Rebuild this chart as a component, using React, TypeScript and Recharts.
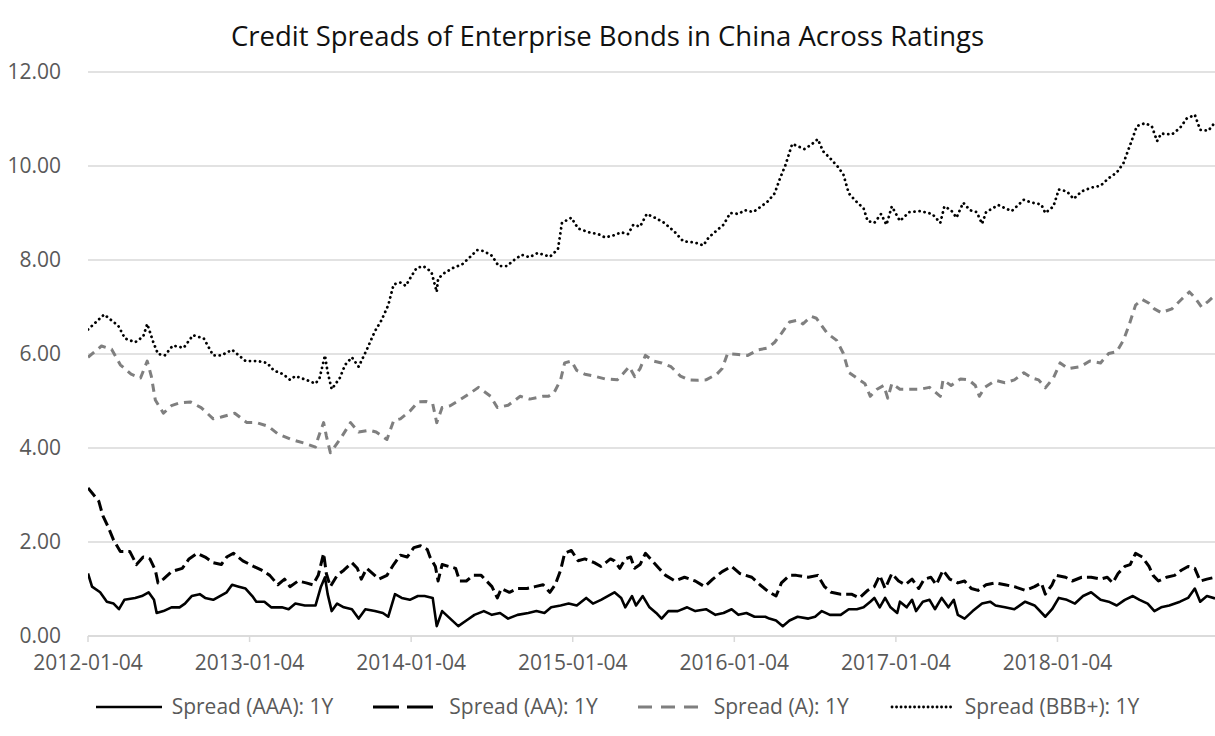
import { CartesianGrid, Line, LineChart, XAxis, YAxis } from "recharts";

// x = months since 2012-01-04, y = spread (%)
const yearLabels = [
  "2012-01-04",
  "2013-01-04",
  "2014-01-04",
  "2015-01-04",
  "2016-01-04",
  "2017-01-04",
  "2018-01-04",
];
const yTicks = [0, 2, 4, 6, 8, 10, 12];

const aaa: [number, number][] = [
  [0, 1.33], [0.3, 1.05], [0.9, 0.93], [1.4, 0.73], [1.9, 0.69], [2.3, 0.57], [2.7, 0.77], [3.5, 0.81],
  [4.0, 0.85], [4.5, 0.93], [4.9, 0.77], [5.1, 0.49], [5.6, 0.53], [6.2, 0.61], [6.8, 0.61], [7.2, 0.69],
  [7.7, 0.85], [8.3, 0.89], [8.7, 0.81], [9.3, 0.77], [9.8, 0.85], [10.3, 0.93], [10.7, 1.09], [11.2, 1.05],
  [11.7, 1.01], [12.2, 0.85], [12.5, 0.73], [13.1, 0.73], [13.6, 0.61], [14.4, 0.61], [14.9, 0.57], [15.4, 0.69],
  [16.1, 0.65], [16.9, 0.65], [17.3, 1.05], [17.6, 1.25], [17.8, 0.89], [18.1, 0.53], [18.5, 0.69], [19.0, 0.61],
  [19.6, 0.57], [20.1, 0.37], [20.6, 0.57], [21.3, 0.53], [21.9, 0.49], [22.3, 0.41], [22.8, 0.89], [23.3, 0.81],
  [23.9, 0.77], [24.5, 0.85], [25.0, 0.85], [25.6, 0.81], [25.9, 0.21], [26.3, 0.53], [26.9, 0.37], [27.5, 0.21],
  [28.1, 0.33], [28.7, 0.45], [29.4, 0.53], [30.0, 0.45], [30.6, 0.49], [31.2, 0.37], [31.9, 0.45], [32.7, 0.49],
  [33.3, 0.53], [33.9, 0.49], [34.4, 0.61], [35.1, 0.65], [35.7, 0.69], [36.3, 0.65], [37.0, 0.81], [37.5, 0.69],
  [38.1, 0.77], [38.6, 0.85], [39.1, 0.93], [39.6, 0.81], [39.9, 0.61], [40.4, 0.85], [40.7, 0.65], [41.2, 0.85],
  [41.7, 0.61], [42.2, 0.49], [42.6, 0.37], [43.1, 0.53], [43.8, 0.53], [44.5, 0.61], [45.1, 0.53], [45.9, 0.57],
  [46.6, 0.45], [47.2, 0.49], [47.8, 0.57], [48.3, 0.45], [48.9, 0.49], [49.5, 0.41], [50.3, 0.41], [50.6, 0.37],
  [51.1, 0.33], [51.6, 0.21], [52.1, 0.33], [52.7, 0.41], [53.5, 0.37], [54.0, 0.41], [54.5, 0.53], [55.1, 0.45],
  [55.9, 0.45], [56.5, 0.57], [57.1, 0.57], [57.6, 0.61], [58.1, 0.73], [58.4, 0.81], [58.8, 0.61], [59.2, 0.81],
  [59.6, 0.61], [60.1, 0.49], [60.3, 0.73], [60.8, 0.61], [61.2, 0.77], [61.5, 0.53], [62.0, 0.73], [62.5, 0.77],
  [62.9, 0.57], [63.4, 0.81], [63.9, 0.61], [64.3, 0.77], [64.6, 0.45], [65.1, 0.37], [65.7, 0.53], [66.4, 0.69],
  [67.0, 0.73], [67.4, 0.65], [68.1, 0.61], [68.8, 0.57], [69.6, 0.73], [70.3, 0.65], [71.1, 0.41], [71.6, 0.57],
  [72.1, 0.81], [72.7, 0.77], [73.3, 0.69], [73.9, 0.85], [74.5, 0.93], [75.2, 0.77], [75.8, 0.73], [76.4, 0.65],
  [77.0, 0.77], [77.6, 0.85], [78.1, 0.77], [78.7, 0.69], [79.2, 0.53], [79.7, 0.61], [80.3, 0.65], [81.1, 0.73],
  [81.7, 0.81], [82.2, 1.01], [82.6, 0.73], [83.1, 0.85], [83.7, 0.8],
];

const aa: [number, number][] = [
  [0, 3.15], [0.8, 2.87], [1.1, 2.56], [1.5, 2.32], [1.9, 2.04], [2.4, 1.8], [3.1, 1.8], [3.6, 1.52],
  [4.1, 1.68], [4.6, 1.64], [5.0, 1.4], [5.2, 1.13], [5.6, 1.21], [6.2, 1.37], [7.0, 1.44], [7.5, 1.64],
  [8.1, 1.76], [8.7, 1.68], [9.3, 1.56], [9.9, 1.52], [10.3, 1.68], [10.8, 1.76], [11.5, 1.6], [12.3, 1.48],
  [12.9, 1.4], [13.5, 1.29], [14.1, 1.09], [14.6, 1.21], [15.0, 1.05], [15.6, 1.17], [16.2, 1.13], [16.7, 1.09],
  [17.1, 1.29], [17.5, 1.76], [17.7, 1.33], [18.0, 1.05], [18.5, 1.29], [19.0, 1.4], [19.6, 1.56], [20.0, 1.44],
  [20.3, 1.21], [20.7, 1.44], [21.6, 1.21], [22.2, 1.29], [22.7, 1.52], [23.2, 1.72], [23.7, 1.68], [24.2, 1.88],
  [24.7, 1.92], [25.2, 1.84], [25.4, 1.68], [25.8, 1.48], [26.0, 1.17], [26.3, 1.52], [26.8, 1.48], [27.3, 1.44],
  [27.6, 1.17], [28.1, 1.17], [28.6, 1.29], [29.2, 1.29], [29.6, 1.17], [30.0, 1.05], [30.4, 0.81], [30.7, 1.01],
  [31.3, 0.93], [31.9, 1.01], [32.6, 1.01], [33.2, 1.05], [33.8, 1.09], [34.3, 0.93], [34.7, 1.09], [35.1, 1.4],
  [35.4, 1.76], [35.9, 1.82], [36.4, 1.6], [36.9, 1.64], [37.6, 1.56], [38.1, 1.48], [38.8, 1.64], [39.1, 1.6],
  [39.5, 1.44], [39.9, 1.64], [40.3, 1.68], [40.6, 1.44], [41.0, 1.52], [41.4, 1.76], [41.9, 1.6], [42.4, 1.44],
  [42.9, 1.29], [43.6, 1.17], [44.3, 1.25], [45.1, 1.17], [45.8, 1.05], [46.4, 1.21], [47.1, 1.37], [47.8, 1.48],
  [48.4, 1.33], [49.3, 1.25], [49.9, 1.09], [50.5, 0.95], [51.1, 0.85], [51.5, 1.13], [52.1, 1.29], [52.6, 1.29],
  [53.5, 1.25], [54.2, 1.29], [54.7, 1.05], [55.2, 0.93], [55.9, 0.89], [56.7, 0.89], [57.3, 0.81], [57.9, 0.97],
  [58.4, 1.05], [58.8, 1.29], [59.2, 1.01], [59.7, 1.33], [60.2, 1.17], [60.7, 1.09], [61.2, 1.21], [61.7, 1.01],
  [62.1, 1.21], [62.6, 1.25], [63.0, 1.09], [63.5, 1.4], [64.0, 1.21], [64.6, 1.13], [65.1, 1.17], [65.6, 1.01],
  [66.1, 0.97], [66.7, 1.09], [67.4, 1.13], [68.1, 1.09], [68.8, 1.05], [69.6, 0.97], [70.3, 1.05], [70.8, 1.13],
  [71.1, 0.89], [71.6, 1.09], [71.9, 1.29], [72.6, 1.25], [73.1, 1.17], [73.8, 1.25], [74.5, 1.25], [75.2, 1.21],
  [75.7, 1.25], [76.1, 1.13], [76.5, 1.33], [77.0, 1.48], [77.4, 1.52], [77.8, 1.76], [78.3, 1.68], [78.8, 1.48],
  [79.1, 1.29], [79.5, 1.17], [80.1, 1.25], [80.7, 1.29], [81.2, 1.4], [81.7, 1.48], [82.2, 1.44], [82.6, 1.17],
  [83.1, 1.21], [83.7, 1.25],
];

const ratingA: [number, number][] = [
  [0, 5.93], [1.0, 6.17], [1.75, 6.1], [2.4, 5.77], [3.2, 5.57], [3.9, 5.49], [4.4, 5.85], [4.7, 5.53],
  [5.0, 5.02], [5.6, 4.74], [6.2, 4.9], [6.8, 4.96], [7.6, 4.98], [8.4, 4.86], [9.3, 4.62], [9.9, 4.66],
  [10.9, 4.74], [11.8, 4.54], [12.5, 4.54], [13.4, 4.46], [14.1, 4.3], [15.1, 4.18], [16.1, 4.1], [16.9, 4.02],
  [17.1, 4.22], [17.5, 4.54], [17.7, 4.26], [18.0, 3.9], [18.3, 4.02], [18.8, 4.22], [19.5, 4.54], [20.1, 4.34],
  [20.9, 4.38], [21.4, 4.34], [22.2, 4.18], [22.7, 4.58], [23.2, 4.62], [23.9, 4.78], [24.5, 4.98], [25.1, 4.99],
  [25.6, 4.94], [25.9, 4.54], [26.3, 4.86], [26.9, 4.9], [27.6, 5.02], [28.4, 5.17], [29.0, 5.29], [29.9, 5.1],
  [30.4, 4.86], [31.2, 4.91], [32.1, 5.1], [32.8, 5.04], [33.8, 5.1], [34.2, 5.1], [34.6, 5.17], [35.1, 5.45],
  [35.4, 5.81], [35.9, 5.85], [36.3, 5.65], [36.9, 5.57], [37.6, 5.53], [38.4, 5.47], [39.3, 5.45], [39.7, 5.57],
  [40.2, 5.73], [40.6, 5.52], [41.0, 5.69], [41.4, 5.97], [42.0, 5.85], [42.6, 5.81], [43.3, 5.73], [44.0, 5.53],
  [44.6, 5.45], [45.3, 5.44], [45.9, 5.45], [46.7, 5.57], [47.1, 5.69], [47.5, 6.01], [48.3, 5.99], [49.0, 5.97],
  [49.8, 6.09], [50.5, 6.13], [51.0, 6.25], [51.5, 6.44], [52.1, 6.68], [52.7, 6.72], [53.1, 6.64], [53.7, 6.8],
  [54.1, 6.76], [54.5, 6.6], [54.9, 6.44], [55.6, 6.29], [56.1, 6.01], [56.5, 5.61], [57.1, 5.49], [57.7, 5.37],
  [58.1, 5.1], [58.6, 5.25], [59.1, 5.33], [59.4, 5.06], [59.7, 5.37], [60.3, 5.25], [61.0, 5.25], [61.8, 5.25],
  [62.5, 5.29], [63.3, 5.1], [63.5, 5.45], [64.1, 5.33], [64.8, 5.47], [65.4, 5.45], [65.9, 5.33], [66.2, 5.1],
  [66.6, 5.29], [67.4, 5.44], [68.1, 5.39], [68.8, 5.45], [69.5, 5.6], [70.1, 5.49], [70.6, 5.45], [71.1, 5.28],
  [71.7, 5.49], [72.2, 5.81], [72.8, 5.69], [73.7, 5.73], [74.4, 5.85], [75.2, 5.81], [75.8, 6.01], [76.4, 6.05],
  [76.9, 6.29], [77.3, 6.6], [77.8, 7.04], [78.3, 7.16], [78.8, 7.08], [79.2, 6.96], [79.7, 6.88], [80.5, 6.96],
  [81.2, 7.16], [81.8, 7.32], [82.2, 7.2], [82.7, 7.0], [83.2, 7.12], [83.7, 7.25],
];

const bbbPlus: [number, number][] = [
  [0, 6.52], [1.2, 6.84], [2.25, 6.6], [2.75, 6.33], [3.5, 6.25], [4.1, 6.37], [4.4, 6.64], [4.85, 6.25],
  [5.2, 6.0], [5.7, 5.97], [6.3, 6.18], [7.1, 6.13], [7.8, 6.4], [8.6, 6.33], [9.3, 5.97], [9.9, 5.97],
  [10.7, 6.09], [11.7, 5.85], [12.6, 5.85], [13.3, 5.81], [13.8, 5.65], [14.5, 5.57], [15.0, 5.45], [15.4, 5.53],
  [16.2, 5.45], [16.9, 5.37], [17.2, 5.49], [17.6, 5.97], [17.8, 5.61], [18.1, 5.25], [18.7, 5.49], [19.1, 5.77],
  [19.6, 5.93], [20.1, 5.73], [20.7, 6.09], [21.3, 6.48], [21.8, 6.72], [22.3, 7.04], [22.7, 7.48], [23.2, 7.52],
  [23.6, 7.45], [23.9, 7.6], [24.4, 7.83], [24.9, 7.87], [25.5, 7.75], [25.9, 7.32], [26.0, 7.6], [26.4, 7.71],
  [27.1, 7.83], [27.8, 7.91], [28.4, 8.07], [28.9, 8.21], [29.4, 8.19], [30.0, 8.09], [30.5, 7.87], [31.1, 7.87],
  [31.6, 7.99], [32.2, 8.11], [32.8, 8.06], [33.4, 8.15], [34.3, 8.07], [34.9, 8.23], [35.2, 8.79], [35.9, 8.9],
  [36.4, 8.67], [37.2, 8.59], [37.9, 8.55], [38.4, 8.48], [39.1, 8.53], [39.6, 8.59], [40.1, 8.55], [40.5, 8.75],
  [41.0, 8.71], [41.5, 8.98], [42.1, 8.9], [42.8, 8.79], [43.6, 8.59], [44.2, 8.4], [45.1, 8.37], [45.7, 8.31],
  [46.1, 8.48], [46.7, 8.63], [47.2, 8.75], [47.7, 9.0], [48.3, 8.98], [48.8, 9.06], [49.4, 9.02], [50.0, 9.14],
  [50.5, 9.25], [51.0, 9.42], [51.4, 9.74], [51.8, 10.02], [52.3, 10.47], [52.8, 10.41], [53.2, 10.36], [53.7, 10.45],
  [54.2, 10.57], [54.6, 10.31], [55.1, 10.17], [55.7, 9.98], [56.1, 9.82], [56.5, 9.42], [57.0, 9.26], [57.6, 9.1],
  [57.9, 8.83], [58.4, 8.79], [58.9, 8.98], [59.3, 8.75], [59.7, 9.14], [60.3, 8.83], [61.0, 9.02], [61.8, 9.04],
  [62.7, 8.98], [63.3, 8.79], [63.6, 9.14], [64.1, 9.06], [64.5, 8.9], [65.0, 9.22], [65.5, 9.06], [66.0, 9.02],
  [66.4, 8.77], [66.7, 9.02], [67.2, 9.1], [67.6, 9.17], [68.6, 9.04], [69.5, 9.28], [70.1, 9.22], [70.8, 9.18],
  [71.1, 9.0], [71.7, 9.14], [72.1, 9.5], [72.7, 9.46], [73.2, 9.3], [73.8, 9.46], [74.5, 9.54], [75.2, 9.58],
  [75.8, 9.74], [76.4, 9.86], [76.9, 10.06], [77.4, 10.45], [77.9, 10.85], [78.5, 10.91], [79.0, 10.85], [79.4, 10.53],
  [79.7, 10.69], [80.5, 10.67], [81.1, 10.81], [81.6, 11.01], [82.2, 11.09], [82.6, 10.77], [83.2, 10.75], [83.7, 10.93],
];

const toPoints = (rows: [number, number][]) => rows.map(([m, v]) => ({ m, v }));

const series = [
  { name: "Spread (AAA): 1Y", rows: aaa, stroke: "#000000", width: 2.6, dash: undefined, cap: "butt", iconDash: undefined },
  { name: "Spread (AA): 1Y", rows: aa, stroke: "#000000", width: 3, dash: "11 5", cap: "butt", iconDash: "26 8" },
  { name: "Spread (A): 1Y", rows: ratingA, stroke: "#7f7f7f", width: 3, dash: "8 6", cap: "butt", iconDash: "14 9" },
  { name: "Spread (BBB+): 1Y", rows: bbbPlus, stroke: "#000000", width: 2.8, dash: "0.1 5", cap: "round", iconDash: "0.1 4.4" },
];

const ChartLegend = () => (
  <div
    style={{
      position: "absolute",
      top: 692,
      left: 0,
      width: 1215,
      display: "flex",
      justifyContent: "center",
      alignItems: "center",
      gap: 40,
      height: 29,
      paddingLeft: 20,
      boxSizing: "border-box",
      fontSize: 21,
      color: "#595959",
      lineHeight: "29px",
    }}
  >
    {series.map((s) => (
      <div key={s.name} style={{ display: "flex", alignItems: "center" }}>
        <svg width={66} height={10} style={{ marginRight: 10 }}>
          <line
            x1={s.cap === "round" ? 3 : 0}
            y1={5}
            x2={66}
            y2={5}
            stroke={s.stroke}
            strokeWidth={s.width}
            strokeDasharray={s.iconDash}
            strokeLinecap={s.cap as any}
          />
        </svg>
        <span>{s.name}</span>
      </div>
    ))}
  </div>
);

export default function App() {
  return (
    <div
      style={{
        position: "absolute",
        left: 0,
        top: 0,
        width: 1215,
        height: 736,
        background: "#ffffff",
        fontFamily: '"Open Sans", sans-serif',
      }}
    >
      <div
        style={{
          position: "absolute",
          top: 17,
          width: "100%",
          textAlign: "center",
          fontSize: 27.5,
          lineHeight: "37px",
          color: "#111111",
        }}
      >
        Credit Spreads of Enterprise Bonds in China Across Ratings
      </div>
      <LineChart width={1215} height={736} margin={{ top: 72, right: 0, left: 0, bottom: 60 }}>
        <CartesianGrid vertical={false} stroke="#d9d9d9" strokeWidth={1.5} />
        <XAxis
          dataKey="m"
          type="number"
          domain={[0, 83.7]}
          ticks={[0, 12, 24, 36, 48, 60, 72]}
          tickFormatter={(t: number) => yearLabels[Math.round(t / 12)]}
          height={40}
          axisLine={{ stroke: "#d9d9d9", strokeWidth: 1.5 }}
          tickLine={{ stroke: "#d9d9d9", strokeWidth: 1.5 }}
          tickSize={6}
          tickMargin={13}
          tick={{ fill: "#595959", fontSize: 21 }}
          allowDataOverflow
        />
        <YAxis
          type="number"
          domain={[0, 12]}
          ticks={yTicks}
          tickFormatter={(v: number) => v.toFixed(2)}
          width={88}
          axisLine={false}
          tickLine={false}
          tickSize={0}
          tickMargin={27}
          tick={{ fill: "#595959", fontSize: 21 }}
        />
        {series.map((s) => (
          <Line
            key={s.name}
            name={s.name}
            data={toPoints(s.rows)}
            dataKey="v"
            type="linear"
            stroke={s.stroke}
            strokeWidth={s.width}
            strokeDasharray={s.dash}
            strokeLinecap={s.cap as any}
            strokeLinejoin="round"
            dot={false}
            activeDot={false}
            isAnimationActive={false}
          />
        ))}
      </LineChart>
      <ChartLegend />
    </div>
  );
}
